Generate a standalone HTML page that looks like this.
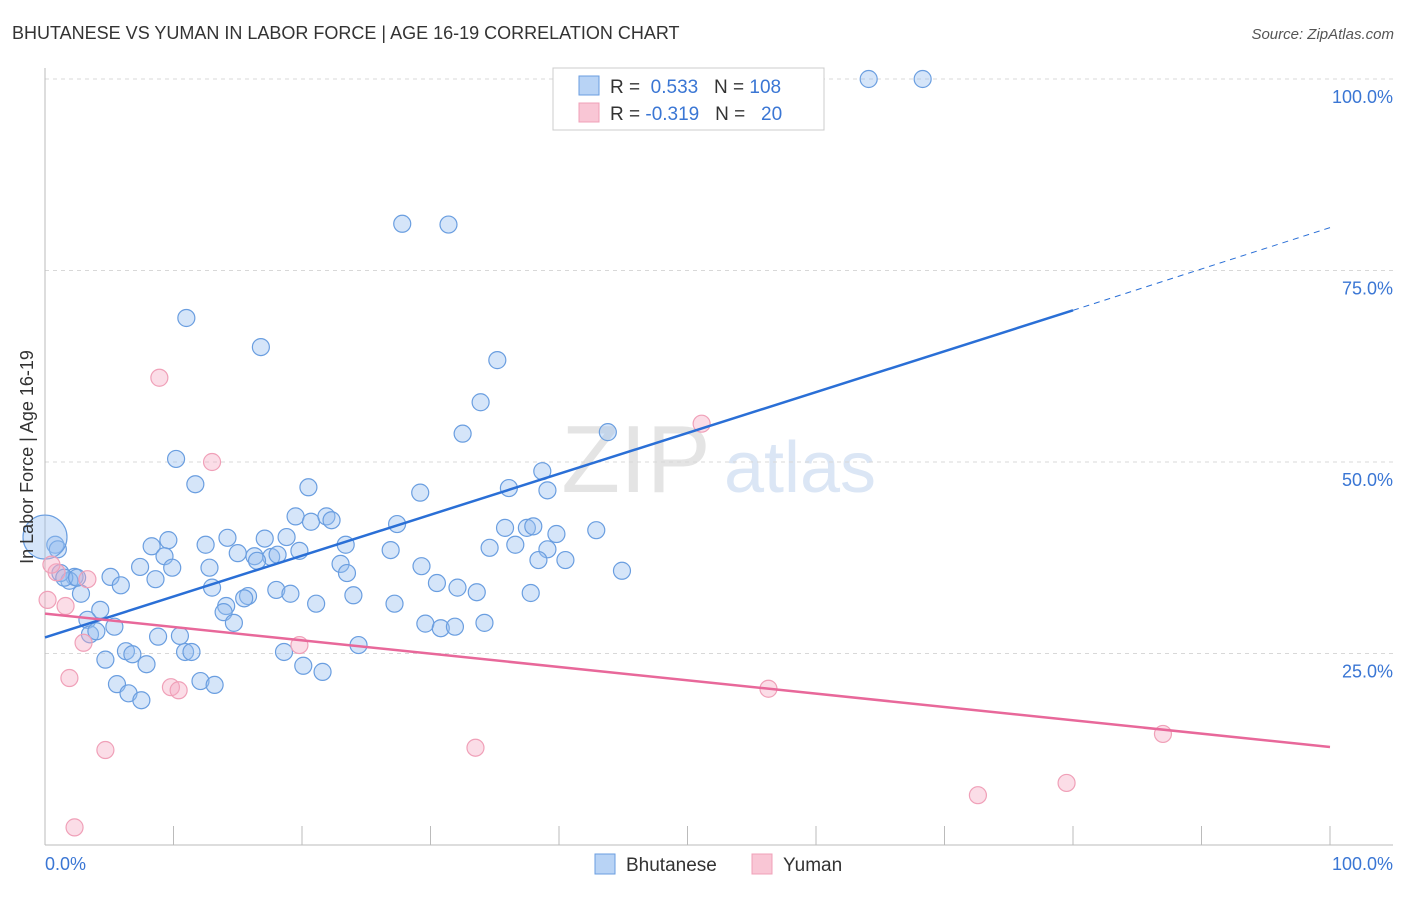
<!DOCTYPE html>
<html><head><meta charset="utf-8"><style>
body{margin:0;background:#fff;font-family:"Liberation Sans",sans-serif}
svg text{font-family:"Liberation Sans",sans-serif}
</style></head><body>
<svg id="c" width="1406" height="892">
<text x="12" y="39" font-size="18" fill="#333">BHUTANESE VS YUMAN IN LABOR FORCE | AGE 16-19 CORRELATION CHART</text>
<text x="1394" y="39" font-size="15" fill="#555" text-anchor="end" font-style="italic">Source: ZipAtlas.com</text>
<text x="636" y="492" font-size="96" fill="#e4e4e4" font-family="Liberation Serif" text-anchor="middle">ZIP</text>
<text x="800" y="492" font-size="72" fill="#dbe6f5" text-anchor="middle">atlas</text>
<g id="grid"></g><g id="axes"></g><g id="pts"></g><g id="lines"></g>
<text x="33" y="457" font-size="18" fill="#333" text-anchor="middle" transform="rotate(-90 33 457)">In Labor Force | Age 16-19</text>
<text x="45" y="870" font-size="18" fill="#3a76d4">0.0%</text>
<text x="1393" y="870" font-size="18" fill="#3a76d4" text-anchor="end">100.0%</text>
<g>
<rect x="553" y="68" width="271" height="62" fill="#fff" stroke="#ccc"/>
<rect x="579" y="76" width="20" height="19" fill="#b8d3f5" stroke="#6a9ee0"/>
<rect x="579" y="103" width="20" height="19" fill="#f9c6d5" stroke="#f0a0b8"/>
<text x="610" y="93" font-size="19" fill="#333">R = <tspan fill="#3a76d4">&#160;0.533</tspan>&#160;&#160;&#160;N = <tspan fill="#3a76d4">108</tspan></text>
<text x="610" y="120" font-size="19" fill="#333">R = <tspan fill="#3a76d4">-0.319</tspan>&#160;&#160;&#160;N = <tspan fill="#3a76d4">&#160;&#160;20</tspan></text>
</g>
<g>
<rect x="595" y="854" width="20" height="20" fill="#b8d3f5" stroke="#6a9ee0"/>
<text x="626" y="871" font-size="19" fill="#333">Bhutanese</text>
<rect x="752" y="854" width="20" height="20" fill="#f9c6d5" stroke="#f0a0b8"/>
<text x="783" y="871" font-size="19" fill="#333">Yuman</text>
</g>
</svg>
<script>
const yTicks=[25,50,75,100];
const yTickLabels=["25.0%","50.0%","75.0%","100.0%"];
const blueX=[64.1,68.3,27.8,31.4,11.0,16.8,35.2,33.9,32.5,43.8,10.2,11.7,38.7,39.1,36.1,29.2,20.5,19.5,20.7,21.9,22.3,27.4,35.8,37.5,38.0,39.8,42.9,14.2,17.1,18.8,9.6,8.3,12.5,23.4,34.6,36.6,39.1,26.9,15.0,16.3,17.6,18.1,19.8,9.3,16.5,29.3,38.4,40.5,23.0,7.4,9.9,12.8,44.9,23.5,5.1,2.3,1.9,8.6,30.5,32.1,13.0,5.9,33.6,37.8,18.0,19.1,15.8,15.5,24.0,2.8,14.1,13.9,27.2,21.1,4.3,14.7,29.6,30.8,31.9,34.2,3.3,5.4,3.5,4.0,8.8,10.5,24.4,10.9,11.4,6.3,6.8,18.6,4.7,7.9,20.1,21.6,12.1,13.2,5.6,6.5,7.5,0.8,1.0,1.2,1.5,2.5,0];
const blueY=[100,100,81.1,81.0,68.8,65.0,63.3,57.8,53.7,53.9,50.4,47.1,48.8,46.3,46.6,46.0,46.7,42.9,42.2,42.9,42.4,41.9,41.4,41.4,41.6,40.6,41.1,40.1,40.0,40.2,39.8,39.0,39.2,39.2,38.8,39.2,38.6,38.5,38.1,37.7,37.6,37.9,38.4,37.7,37.1,36.4,37.2,37.2,36.7,36.3,36.2,36.2,35.8,35.5,35.0,35.0,34.5,34.7,34.2,33.6,33.6,33.9,33.0,32.9,33.3,32.8,32.5,32.2,32.6,32.8,31.2,30.4,31.5,31.5,30.7,29.0,28.9,28.3,28.5,29.0,29.4,28.5,27.5,27.9,27.2,27.3,26.1,25.2,25.2,25.3,24.9,25.2,24.2,23.6,23.4,22.6,21.4,20.9,21.0,19.8,18.9,39.2,38.6,35.5,34.9,34.9,40.2];
const blueSize=[];
const pinkX=[8.9,13.0,51.1,0.9,3.3,0.2,1.6,3.0,19.8,1.9,9.8,10.4,56.3,4.7,33.5,87.0,72.6,79.5,2.3,0.5];
const pinkY=[61.0,50.0,55.0,35.6,34.7,32.0,31.2,26.4,26.1,21.8,20.6,20.2,20.4,12.4,12.7,14.5,6.5,8.1,2.3,36.6];
const blueTrend=[27.1,69.8,80.6];
const pinkTrend=[30.2,12.8];
const X0=45,X1=1330,Y0=845,Y100=79;
const sx=v=>X0+(X1-X0)*v/100, sy=v=>Y0-(Y0-Y100)*v/100;
const NS="http://www.w3.org/2000/svg";
function mk(t,a,p){const e=document.createElementNS(NS,t);for(const k in a)e.setAttribute(k,a[k]);p.appendChild(e);return e;}
const grid=document.getElementById('grid'),axes=document.getElementById('axes'),pts=document.getElementById('pts'),lines=document.getElementById('lines');
yTicks.forEach((t,i)=>{
 const g=mk('line',{x1:X0,x2:1393,y1:sy(t),y2:sy(t),stroke:'#d8d8d8','stroke-dasharray':'4,4'},grid);
 
 
 const l=mk('text',{x:1393,y:sy(t)+24,'font-size':18,fill:'#3a76d4','text-anchor':'end'},grid);
 l.textContent=yTickLabels[i];
 
 
});
const ax=mk('line',{x1:X0,x2:X0,y1:68,y2:Y0,stroke:'#bbb'},axes);


const bx=mk('line',{x1:X0,x2:1393,y1:Y0,y2:Y0,stroke:'#bbb'},axes);


for(let i=0;i<=10;i++){
 const t=mk('line',{x1:sx(i*10),x2:sx(i*10),y1:826,y2:Y0,stroke:'#bbb'},axes);
 
 
}
blueX.forEach((x,i)=>{
 const r=(i===blueX.length-1)?22:8.5;
 const c=mk('circle',{cx:sx(x),cy:sy(blueY[i]),r:r,fill:'rgba(150,190,240,0.4)',stroke:'#6a9ee0','stroke-width':1.2},pts);
 
 
});
pinkX.forEach((x,i)=>{
 const c=mk('circle',{cx:sx(x),cy:sy(pinkY[i]),r:8.5,fill:'rgba(245,170,195,0.4)',stroke:'#f0a0b8','stroke-width':1.2},pts);
 
 
});
const b1=mk('line',{x1:sx(0),y1:sy(blueTrend[0]),x2:sx(80),y2:sy(blueTrend[1]),stroke:'#2a6fd6','stroke-width':2.5},lines);


const b2=mk('line',{x1:sx(80),y1:sy(blueTrend[1]),x2:sx(100),y2:sy(blueTrend[2]),stroke:'#2a6fd6','stroke-width':1,'stroke-dasharray':'6,5'},lines);


const p1=mk('line',{x1:sx(0),y1:sy(pinkTrend[0]),x2:sx(100),y2:sy(pinkTrend[1]),stroke:'#e8689a','stroke-width':2.5},lines);


</script>
</body></html>
